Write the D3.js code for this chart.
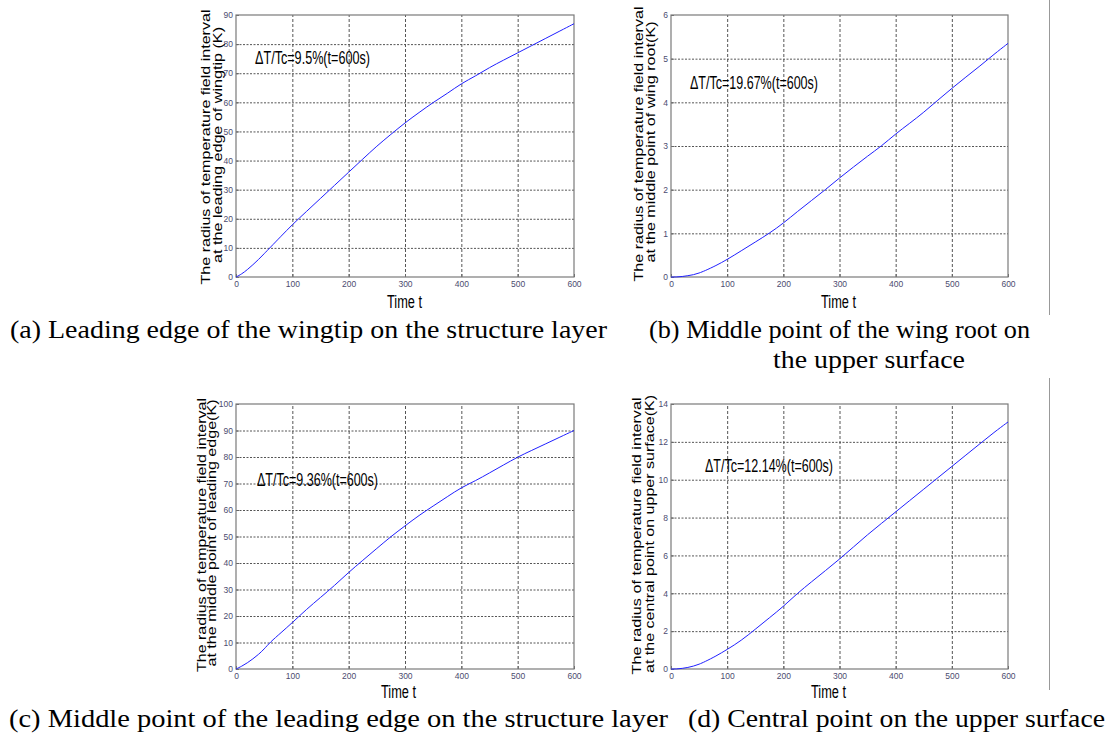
<!DOCTYPE html>
<html>
<head>
<meta charset="utf-8">
<script src="https://cdn.jsdelivr.net/npm/d3@7"></script>
<style>
  body { margin: 0; background: #fff; }
  svg { display: block; }
</style>
</head>
<body>
<div id="viz"></div>
<script>
// time samples (s) shared by all four curves
const times = [0, 10, 20, 30, 40, 50, 60, 80, 100, 125, 150, 175, 200, 225, 250, 275, 300, 325, 350, 375, 400, 425, 450, 475, 500, 525, 550, 575, 600]

// radius of temperature field interval (K)
const radiusA = [0, 1, 2.5, 4.2, 6, 8, 10, 14, 18, 22.5, 27, 31.5, 36, 40.5, 45, 49, 53, 56.5, 60, 63, 66.5, 69, 72, 74.5, 77, 79.5, 82, 84.5, 87]
const radiusB = [0, 0, 0.01, 0.03, 0.05, 0.09, 0.14, 0.26, 0.4, 0.6, 0.8, 1.0, 1.23, 1.5, 1.75, 2.0, 2.27, 2.52, 2.77, 3.0, 3.28, 3.52, 3.77, 4.05, 4.32, 4.58, 4.83, 5.1, 5.35]
const radiusC = [0, 1, 2.3, 3.8, 5.5, 7.5, 10, 13.7, 17.5, 22.5, 27, 31.5, 36.5, 41, 45.5, 50, 54, 58, 61.5, 65, 68.5, 71, 74, 77, 80, 82.5, 85, 87.5, 90]
const radiusD = [0, 0, 0.03, 0.08, 0.15, 0.25, 0.38, 0.68, 1.03, 1.5, 2.1, 2.7, 3.3, 4.0, 4.6, 5.2, 5.8, 6.45, 7.1, 7.7, 8.3, 8.9, 9.5, 10.1, 10.7, 11.3, 11.9, 12.5, 13.05]

// tick labels
const xTicks = [0, 100, 200, 300, 400, 500, 600]
const yTicksA = [0, 10, 20, 30, 40, 50, 60, 70, 80, 90]
const yTicksB = [0, 1, 2, 3, 4, 5, 6]
const yTicksC = [0, 10, 20, 30, 40, 50, 60, 70, 80, 90, 100]
const yTicksD = [0, 2, 4, 6, 8, 10, 12, 14]

// texts
const xLabel = "Time t"
const yLabelLine1 = "The radius of temperature field interval"
const yLabelsLine2 = [
    "at the leading edge of wingtip (K)",
    "at the middle point of wing root(K)",
    "at the middle point of leading edge(K)",
    "at the central point on upper surface(K)"
]
const notes = ["ΔT/Tc=9.5%(t=600s)", "ΔT/Tc=19.67%(t=600s)", "ΔT/Tc=9.36%(t=600s)", "ΔT/Tc=12.14%(t=600s)"]

const series = [radiusA, radiusB, radiusC, radiusD]
const yTickSets = [yTicksA, yTicksB, yTicksC, yTicksD]

// layout of the four panels (pixel boxes, label spots)
const panels = [
    {left: 236, right: 574, top: 15, bottom: 277, yl1: [209.5, 147, 275], yl2: [221.5, 145, 236], note: [255, 64, 115], xl: [404.5, 308]},
    {left: 671, right: 1008, top: 15, bottom: 277, yl1: [643, 144, 275], yl2: [655, 142, 241], note: [690, 89, 128], xl: [838.5, 308]},
    {left: 236, right: 574, top: 404, bottom: 669, yl1: [205.5, 535, 274], yl2: [216, 533, 267], note: [257, 486, 121], xl: [398.5, 698]},
    {left: 671, right: 1008, top: 404, bottom: 669, yl1: [641, 536, 277], yl2: [654, 534, 278], note: [705, 472, 128], xl: [828.5, 698]}
]

const width = 1112
const height = 738
const narrow = "'Liberation Sans Narrow', 'Arial Narrow', 'Liberation Sans', Arial, sans-serif"
const sans = "'Liberation Sans', Arial, sans-serif"
const serif = "'Times New Roman', 'Liberation Serif', Times, serif"

const svg = d3.select("#viz")
              .append("svg")
              .attr("width", width)
              .attr("height", height)

svg.append("rect").attr("width", width).attr("height", height).attr("fill", "#fff")

panels.forEach((p, i) => {
    const yTicks = yTickSets[i]
    const w = p.right - p.left
    const h = p.bottom - p.top

    const xScale = d3.scaleLinear().domain([0, 600]).range([0, w])
    const yScale = d3.scaleLinear().domain([0, d3.max(yTicks)]).range([h, 0])

    const g = svg.append("g").attr("transform", `translate(${p.left},${p.top})`)

    // dotted grid
    const gridY = g.append("g").call(d3.axisLeft(yScale).tickValues(yTicks.slice(1, -1)).tickSize(-w).tickFormat(""))
    gridY.select(".domain").remove()
    gridY.selectAll("line").attr("stroke", "#555").attr("stroke-dasharray", "2,1.5")

    const gridX = g.append("g").attr("transform", `translate(0,${h})`)
                   .call(d3.axisBottom(xScale).tickValues(xTicks.slice(1, -1)).tickSize(-h).tickFormat(""))
    gridX.select(".domain").remove()
    gridX.selectAll("line").attr("stroke", "#555").attr("stroke-dasharray", "3,2")

    // tick labels
    const yAxis = g.append("g").call(d3.axisLeft(yScale).tickValues(yTicks).tickSize(0).tickPadding(3).tickFormat(d3.format("d")))
    yAxis.select(".domain").remove()
    yAxis.selectAll("text").style("font-family", narrow).attr("font-size", 8.5).attr("fill", "#4c4c70")

    const xAxis = g.append("g").attr("transform", `translate(0,${h})`)
                   .call(d3.axisBottom(xScale).tickValues(xTicks).tickSize(0).tickPadding(4).tickFormat(d3.format("d")))
    xAxis.select(".domain").remove()
    xAxis.selectAll("text").style("font-family", narrow).attr("font-size", 8.5).attr("fill", "#4c4c70")

    // small inward ticks
    g.append("g").call(d3.axisLeft(yScale).tickValues(yTicks).tickSize(-3).tickFormat(""))
     .call(a => a.select(".domain").remove())
     .selectAll("line").attr("stroke", "#666")
    g.append("g").attr("transform", `translate(0,${h})`)
     .call(d3.axisBottom(xScale).tickValues(xTicks).tickSize(-3).tickFormat(""))
     .call(a => a.select(".domain").remove())
     .selectAll("line").attr("stroke", "#666")

    // axes box
    g.append("rect").attr("width", w).attr("height", h)
     .attr("fill", "none").attr("stroke", "#7a7a7a").attr("stroke-width", 1.2)

    // curve
    const line = d3.line()
                   .x((d, j) => xScale(times[j]))
                   .y(d => yScale(d))
                   .curve(d3.curveBasis)
    g.append("path").datum(series[i])
     .attr("d", line)
     .attr("fill", "none")
     .attr("stroke", "#2020ff")
     .attr("stroke-width", 1)

    // annotation
    svg.append("text").attr("x", p.note[0]).attr("y", p.note[1])
       .style("font-family", sans).attr("font-size", 18)
       .attr("textLength", p.note[2]).attr("lengthAdjust", "spacingAndGlyphs")
       .text(notes[i])

    // x label
    svg.append("text").attr("x", p.xl[0]).attr("y", p.xl[1])
       .attr("text-anchor", "middle")
       .style("font-family", sans).attr("font-size", 18)
       .attr("textLength", 35).attr("lengthAdjust", "spacingAndGlyphs")
       .text(xLabel)

    // y label (two rotated lines)
    const ylab = [[p.yl1, yLabelLine1], [p.yl2, yLabelsLine2[i]]]
    ylab.forEach(([pos, txt]) => {
        svg.append("text")
           .attr("transform", `translate(${pos[0]},${pos[1]}) rotate(-90)`)
           .attr("text-anchor", "middle")
           .style("font-family", sans).attr("font-size", 12.5)
           .attr("textLength", pos[2]).attr("lengthAdjust", "spacingAndGlyphs")
           .text(txt)
    })
})

// captions
const captions = [
    {x: 10, y: 338, len: 597, text: "(a) Leading edge of the wingtip on the structure layer"},
    {x: 649, y: 338, len: 381, text: "(b) Middle point of the wing root on"},
    {x: 773, y: 368, len: 192, text: "the upper surface"},
    {x: 9, y: 727, len: 659, text: "(c) Middle point of the leading edge on the structure layer"},
    {x: 688, y: 727, len: 417, text: "(d) Central point on the upper surface"}
]
svg.selectAll("text.caption").data(captions).join("text")
   .attr("class", "caption")
   .attr("x", d => d.x).attr("y", d => d.y)
   .style("font-family", serif).attr("font-size", 25)
   .attr("textLength", d => d.len).attr("lengthAdjust", "spacingAndGlyphs")
   .text(d => d.text)

// thin separator line on the right edge
svg.append("line").attr("x1", 1049.5).attr("x2", 1049.5).attr("y1", 0).attr("y2", 315)
   .attr("stroke", "#999")
svg.append("line").attr("x1", 1049.5).attr("x2", 1049.5).attr("y1", 378).attr("y2", 690)
   .attr("stroke", "#999")
</script>
</body>
</html>
